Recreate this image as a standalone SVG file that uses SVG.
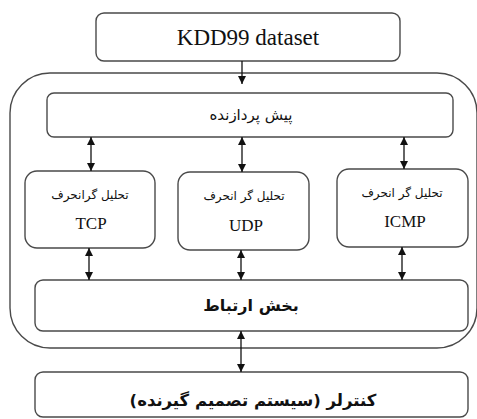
<svg xmlns="http://www.w3.org/2000/svg" width="477" height="419" viewBox="0 0 477 419">
<style>
.box{fill:#fff;stroke:#4a4a4a;stroke-width:1.4}
.lat{font-family:"Liberation Serif","Times New Roman",serif;fill:#111;text-anchor:middle}
.ar{font-family:"DejaVu Sans","Noto Sans",sans-serif;fill:#111;text-anchor:middle}
.con line{stroke:#111;stroke-width:1.3}
</style>
<defs>
<marker id="ah" viewBox="0 0 10 10" refX="10" refY="5" markerWidth="8" markerHeight="8" markerUnits="userSpaceOnUse" orient="auto-start-reverse">
<path d="M0,0 L10,5 L0,10 Z" fill="#111"/>
</marker>
</defs>
<rect width="477" height="419" fill="#fff"/>
<g id="outer"><rect class="box" x="10" y="73" width="467" height="275" rx="40" ry="40"/></g>
<g id="kdd"><rect class="box" x="96" y="13" width="304" height="48" rx="8"/><text class="lat" x="248" y="45" font-size="23">KDD99 dataset</text></g>
<g id="pre"><rect class="box" x="47" y="93" width="406" height="44" rx="7"/><text class="ar" x="251" y="120" font-size="15" direction="rtl">پیش پردازنده</text></g>
<g id="tcp"><rect class="box" x="25" y="171" width="130" height="77" rx="12"/><text class="ar" x="90" y="199" font-size="12" direction="rtl">تحلیل گرانحرف</text><text class="lat" x="91" y="229" font-size="17">TCP</text></g>
<g id="udp"><rect class="box" x="178" y="172" width="131" height="78" rx="12"/><text class="ar" x="244" y="200" font-size="12" direction="rtl">تحلیل گر انحرف</text><text class="lat" x="246" y="231" font-size="17">UDP</text></g>
<g id="icmp"><rect class="box" x="337" y="169" width="131" height="78" rx="12"/><text class="ar" x="402" y="197" font-size="12" direction="rtl">تحلیل گر انحرف</text><text class="lat" x="405" y="227" font-size="17">ICMP</text></g>
<g id="link"><rect class="box" x="35" y="280" width="433" height="51" rx="8"/><text class="ar" x="251" y="311" font-size="16" font-weight="bold" direction="rtl">بخش ارتباط</text></g>
<g id="ctrl"><rect class="box" x="35" y="372" width="433" height="45" rx="8"/><text class="ar" x="253" y="406" font-size="16.5" font-weight="bold" direction="rtl">کنترلر (سیستم تصمیم گیرنده)</text></g>
<g class="con" id="connectors">
<line x1="242" y1="61" x2="242" y2="84" marker-end="url(#ah)"/>
<line x1="91" y1="137" x2="91" y2="171" marker-start="url(#ah)" marker-end="url(#ah)"/>
<line x1="242" y1="137" x2="242" y2="172" marker-start="url(#ah)" marker-end="url(#ah)"/>
<line x1="404" y1="137" x2="404" y2="169" marker-start="url(#ah)" marker-end="url(#ah)"/>
<line x1="89" y1="248" x2="89" y2="280" marker-start="url(#ah)" marker-end="url(#ah)"/>
<line x1="241" y1="250" x2="241" y2="280" marker-start="url(#ah)" marker-end="url(#ah)"/>
<line x1="402" y1="247" x2="402" y2="280" marker-start="url(#ah)" marker-end="url(#ah)"/>
<line x1="241" y1="331" x2="241" y2="372" marker-start="url(#ah)" marker-end="url(#ah)"/>
</g>
</svg>
